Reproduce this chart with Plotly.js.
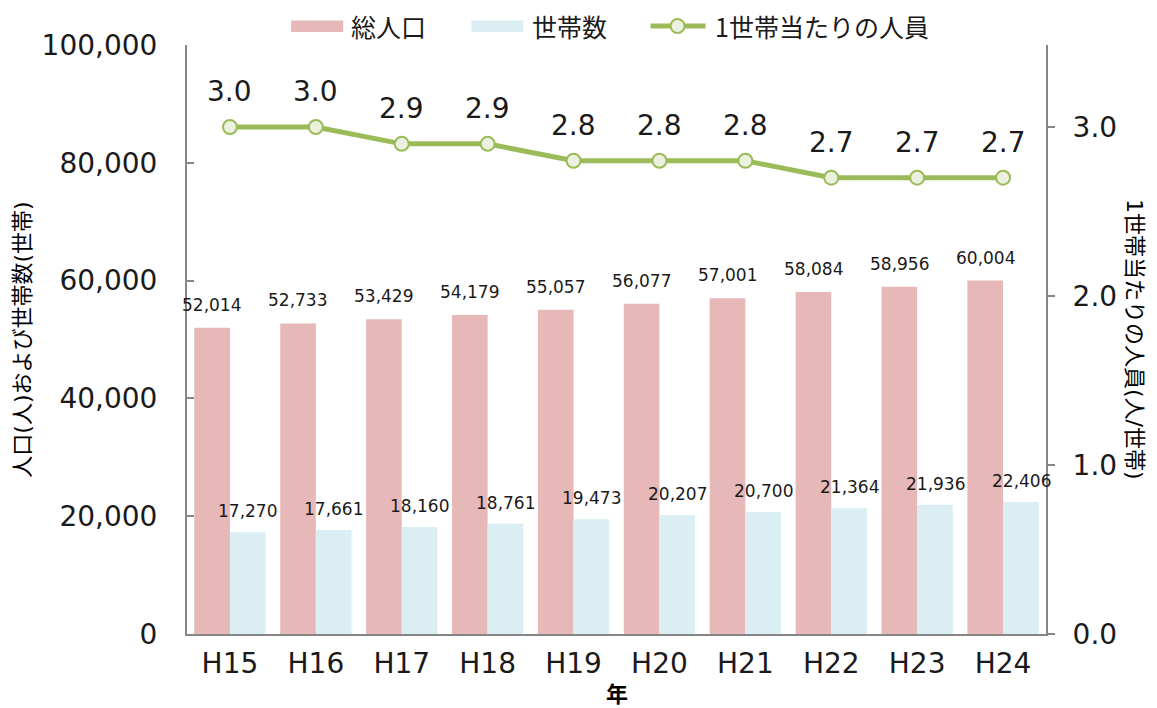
<!DOCTYPE html>
<html>
<head>
<meta charset="utf-8">
<script src="https://cdn.plot.ly/plotly-3.0.1.min.js"></script>
<style>html,body{margin:0;padding:0;background:#fff;}#chart{width:1157px;height:708px;}</style>
</head>
<body>
<div id="chart"></div>
<script>
const years = ["H15","H16","H17","H18","H19","H20","H21","H22","H23","H24"];
const population = [52014,52733,53429,54179,55057,56077,57001,58084,58956,60004];
const households = [17270,17661,18160,18761,19473,20207,20700,21364,21936,22406];
const perHousehold = [3.0,3.0,2.9,2.9,2.8,2.8,2.8,2.7,2.7,2.7];
const seriesNames = ["総人口","世帯数","1世帯当たりの人員"];
const seriesColors = ["#E6B8B7","#DAEEF3","#9BBB59"];

const FONT = "DejaVu Sans, 'Noto Sans CJK JP', sans-serif";
const JFONT = "'Noto Sans CJK JP', sans-serif";
const TXT = "#1a1a1a";
const AX = "#868686";
const MFILL = "#EBF1DE";

const traces = [
  {type:"bar", name:seriesNames[0], x:years, y:population, marker:{color:seriesColors[0]}, yaxis:"y"},
  {type:"bar", name:seriesNames[1], x:years, y:households, marker:{color:seriesColors[1]}, yaxis:"y"},
  {type:"scatter", mode:"lines+markers", name:seriesNames[2], x:years, y:perHousehold, yaxis:"y2",
   line:{color:seriesColors[2], width:5}, marker:{size:14, color:MFILL, line:{color:seriesColors[2], width:2}}}
];

const annotations = [];
years.forEach((yr,i)=>{
  annotations.push({x:yr, y:population[i], xref:"x", yref:"y", text:population[i].toLocaleString("en-US"),
    showarrow:false, xshift:-18, yshift:23, yanchor:"middle", font:{family:FONT, size:17, color:TXT}});
  annotations.push({x:yr, y:households[i], xref:"x", yref:"y", text:households[i].toLocaleString("en-US"),
    showarrow:false, xshift:18, yshift:21, yanchor:"middle", font:{family:FONT, size:17, color:TXT}});
  annotations.push({x:yr, y:perHousehold[i], xref:"x", yref:"y2", text:perHousehold[i].toFixed(1),
    showarrow:false, yshift:35, yanchor:"middle", font:{family:FONT, size:28, color:TXT}});
});
// right axis title (reads top to bottom)
annotations.push({xref:"paper", yref:"paper", x:1.103, y:0.5, text:"1世帯当たりの人員(人/世帯)", textangle:90,
  showarrow:false, xanchor:"center", yanchor:"middle", font:{family:FONT, size:22, color:"#000"}});
// x axis title
annotations.push({xref:"paper", yref:"paper", x:0.5, y:-0.098, text:"<b>年</b>",
  showarrow:false, xanchor:"center", yanchor:"middle", borderpad:0, font:{family:JFONT, size:22, color:"#000"}});

// custom legend (wide swatches as in the reference)
const legY = 1.0323;
const legText = [0.1888, 0.3998, 0.6119];
legText.forEach((lx,k)=>{
  annotations.push({xref:"paper", yref:"paper", x:lx, y:legY, xanchor:"left", yanchor:"middle", showarrow:false,
    text:seriesNames[k], font:{family:JFONT, size:25, color:TXT}});
});
const shapes = [
  {type:"rect", xref:"paper", yref:"paper", x0:0.1212, x1:0.1818, y0:1.0221, y1:1.0416, fillcolor:seriesColors[0], line:{width:0}},
  {type:"rect", xref:"paper", yref:"paper", x0:0.3310, x1:0.3916, y0:1.0221, y1:1.0416, fillcolor:seriesColors[1], line:{width:0}},
  {type:"line", xref:"paper", yref:"paper", x0:0.5396, x1:0.6037, y0:legY, y1:legY, line:{color:seriesColors[2], width:5}},
  {type:"circle", xref:"paper", yref:"paper", xsizemode:"pixel", ysizemode:"pixel", xanchor:0.5711, yanchor:legY,
    x0:-7, x1:7, y0:-7, y1:7, fillcolor:MFILL, line:{color:seriesColors[2], width:2}}
];

const layout = {
  width:1157, height:708,
  margin:{l:187, r:111, t:45, b:74, autoexpand:false},
  paper_bgcolor:"#fff", plot_bgcolor:"#fff",
  font:{family:FONT, color:TXT},
  barmode:"group", bargap:0.17, bargroupgap:0,
  showlegend:false,
  xaxis:{type:"category", range:[-0.5, years.length-0.5], autorange:false, showline:true, linecolor:AX, linewidth:2,
    ticks:"", showgrid:false,
    tickfont:{family:FONT, size:28, color:TXT}, ticklabelstandoff:3},
  yaxis:{range:[0,100000], autorange:false, tickvals:[0,20000,40000,60000,80000,100000], tickformat:",d",
    showline:true, linecolor:AX, linewidth:2, ticks:"inside", ticklen:7, tickcolor:AX, tickwidth:2,
    showgrid:false, zeroline:false, tickfont:{family:FONT, size:28, color:TXT}, ticklabelstandoff:22,
    title:{text:"人口(人)および世帯数(世帯)", font:{family:FONT, size:22, color:"#000"}, standoff:5}},
  yaxis2:{overlaying:"y", side:"right", range:[0,3.485], autorange:false, tickvals:[0,1,2,3], tickformat:".1f",
    showline:true, linecolor:AX, linewidth:2, ticks:"outside", ticklen:7, tickcolor:AX, tickwidth:2,
    showgrid:false, zeroline:false, tickfont:{family:FONT, size:28, color:TXT}, ticklabelstandoff:12},
  annotations:annotations,
  shapes:shapes
};

Plotly.newPlot("chart", traces, layout, {displayModeBar:false, staticPlot:true});
</script>
</body>
</html>
